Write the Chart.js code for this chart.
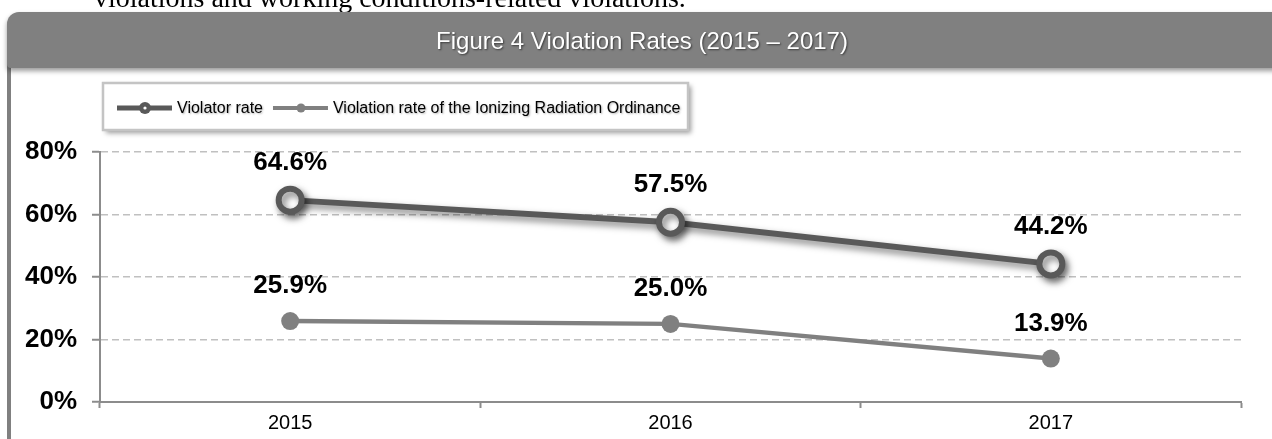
<!DOCTYPE html>
<html>
<head>
<meta charset="utf-8">
<script src="https://cdn.jsdelivr.net/npm/chart.js@4.4.0/dist/chart.umd.min.js"></script>
<style>
  html, body { margin: 0; padding: 0; background: #fff; overflow: hidden; }
  #wrap { position: relative; width: 1272px; height: 439px; }
</style>
</head>
<body>
<div id="wrap"><canvas id="rateChart" width="1272" height="439"></canvas></div>
<script>
const years = ['2015', '2016', '2017'];
const violatorRate = [64.6, 57.5, 44.2];
const ionizingRate = [25.9, 25.0, 13.9];
const seriesNames = ['Violator rate', 'Violation rate of the Ionizing Radiation Ordinance'];
const yTicks = [0, 20, 40, 60, 80];
const chartTitle = 'Figure 4 Violation Rates (2015 \u2013 2017)';
const leadText = 'violations and working conditions-related violations.';

const SANS = '"Liberation Sans", Arial, sans-serif';
const DARK = '#595959';
const MID = '#808080';
const AXIS = '#8c8c8c';

// page frame: cut-off sentence, grey title bar, left panel edge
const framePlugin = {
    id: 'frame',
    beforeDraw(chart) {
        const ctx = chart.ctx;
        ctx.save();
        ctx.fillStyle = '#fff';
        ctx.fillRect(0, 0, chart.width, chart.height);

        ctx.fillStyle = '#000';
        ctx.font = '28px "Liberation Serif", "Times New Roman", serif';
        ctx.textBaseline = 'alphabetic';
        ctx.fillText(leadText, 94, 7);

        ctx.fillStyle = MID;
        ctx.fillRect(7, 50, 4, chart.height);

        ctx.save();
        ctx.shadowColor = 'rgba(0,0,0,0.4)';
        ctx.shadowBlur = 5;
        ctx.shadowOffsetY = 3;
        ctx.beginPath();
        ctx.roundRect(7, 12, chart.width + 20, 56, [12, 0, 0, 4]);
        ctx.fill();
        ctx.restore();

        ctx.font = '24px ' + SANS;
        ctx.textAlign = 'center';
        ctx.shadowColor = 'rgba(0,0,0,0.55)';
        ctx.shadowBlur = 2;
        ctx.shadowOffsetX = 1;
        ctx.shadowOffsetY = 1;
        ctx.fillStyle = '#fff';
        ctx.fillText(chartTitle, 642, 49);
        ctx.restore();
    }
};

// drop shadow under the dark series
const shadowPlugin = {
    id: 'lineShadow',
    beforeDatasetDraw(chart, args) {
        if (args.index !== 0) return;
        const ctx = chart.ctx;
        ctx.save();
        ctx.shadowColor = 'rgba(0,0,0,0.5)';
        ctx.shadowBlur = 7;
        ctx.shadowOffsetX = 3;
        ctx.shadowOffsetY = 4;
    },
    afterDatasetDraw(chart, args) {
        if (args.index !== 0) return;
        chart.ctx.restore();
    }
};

// value labels above each point
const valueLabels = {
    id: 'valueLabels',
    afterDatasetsDraw(chart) {
        const ctx = chart.ctx;
        ctx.save();
        ctx.font = 'bold 26px ' + SANS;
        ctx.fillStyle = '#000';
        ctx.textAlign = 'center';
        ctx.textBaseline = 'alphabetic';
        chart.data.datasets.forEach((ds, i) => {
            const meta = chart.getDatasetMeta(i);
            const lift = i === 0 ? 30 : 28;
            meta.data.forEach((pt, j) => {
                ctx.fillText(ds.data[j].toFixed(1) + '%', pt.x, pt.y - lift);
            });
        });
        ctx.restore();
    }
};

// boxed legend in the top-left corner
const boxLegend = {
    id: 'boxLegend',
    afterDraw(chart) {
        const ctx = chart.ctx;
        const bx = 103, by = 83, bw = 585, bh = 47;
        ctx.save();
        ctx.shadowColor = 'rgba(0,0,0,0.4)';
        ctx.shadowBlur = 5;
        ctx.shadowOffsetX = 3;
        ctx.shadowOffsetY = 3;
        ctx.fillStyle = '#fff';
        ctx.fillRect(bx, by, bw, bh);
        ctx.shadowColor = 'transparent';
        ctx.strokeStyle = '#c4c4c4';
        ctx.lineWidth = 2.5;
        ctx.strokeRect(bx, by, bw, bh);

        ctx.font = '16px ' + SANS;
        ctx.textBaseline = 'middle';
        const cy = 108;
        let x = 117;
        chart.data.datasets.forEach((ds, i) => {
            ctx.strokeStyle = ds.borderColor;
            ctx.lineWidth = i === 0 ? 5 : 4;
            ctx.beginPath();
            ctx.moveTo(x, cy);
            ctx.lineTo(x + 55, cy);
            ctx.stroke();
            ctx.fillStyle = ds.borderColor;
            ctx.beginPath();
            ctx.arc(x + 28, cy, i === 0 ? 6 : 4.5, 0, Math.PI * 2);
            ctx.fill();
            if (i === 0) {
                ctx.fillStyle = '#fff';
                ctx.beginPath();
                ctx.arc(x + 28, cy, 1.6, 0, Math.PI * 2);
                ctx.fill();
            }
            ctx.save();
            ctx.shadowColor = 'rgba(0,0,0,0.3)';
            ctx.shadowBlur = 2;
            ctx.shadowOffsetX = 1;
            ctx.shadowOffsetY = 1;
            ctx.fillStyle = '#000';
            ctx.fillText(ds.label, x + 60, cy + 1);
            ctx.restore();
            x += 60 + ctx.measureText(ds.label).width + 10;
        });
        ctx.restore();
    }
};

const ctx = document.getElementById('rateChart').getContext('2d');
const rateChart = new Chart(ctx, {
    type: 'line',
    data: {
        labels: years,
        datasets: [{
            label: seriesNames[0],
            data: violatorRate,
            borderColor: DARK,
            borderWidth: 6,
            pointRadius: 11.5,
            pointBorderWidth: 6,
            pointBackgroundColor: '#fff',
            pointBorderColor: DARK,
            tension: 0,
            clip: false
        }, {
            label: seriesNames[1],
            data: ionizingRate,
            borderColor: MID,
            borderWidth: 4.5,
            pointRadius: 9,
            pointBorderWidth: 0,
            pointBackgroundColor: MID,
            pointBorderColor: MID,
            tension: 0,
            clip: false
        }]
    },
    options: {
        responsive: false,
        animation: false,
        devicePixelRatio: 1,
        layout: { padding: { left: 0, right: 31, top: 152, bottom: 0 } },
        plugins: {
            legend: { display: false },
            title: { display: false },
            tooltip: { enabled: false }
        },
        scales: {
            x: {
                offset: true,
                afterFit: (scale) => { scale.height = 37; },
                grid: {
                    offset: true,
                    drawOnChartArea: false,
                    tickLength: 6,
                    tickColor: AXIS,
                    tickWidth: 2
                },
                border: { color: AXIS, width: 2 },
                ticks: {
                    color: '#000',
                    font: { family: SANS, size: 20 },
                    padding: 3,
                    maxRotation: 0
                }
            },
            y: {
                min: 0,
                max: 80,
                afterBuildTicks: (scale) => { scale.ticks = yTicks.map(v => ({ value: v })); },
                afterFit: (scale) => { scale.width = 100; },
                grid: {
                    color: '#c0c0c0',
                    lineWidth: 1.5,
                    tickLength: 8,
                    tickColor: AXIS,
                    tickWidth: 2
                },
                border: { color: AXIS, width: 2, dash: [7, 4] },
                ticks: {
                    callback: (v) => v + '%',
                    color: '#000',
                    font: { family: SANS, size: 26, weight: 'bold' },
                    padding: 15
                }
            }
        }
    },
    plugins: [framePlugin, shadowPlugin, valueLabels, boxLegend]
});
</script>
</body>
</html>
